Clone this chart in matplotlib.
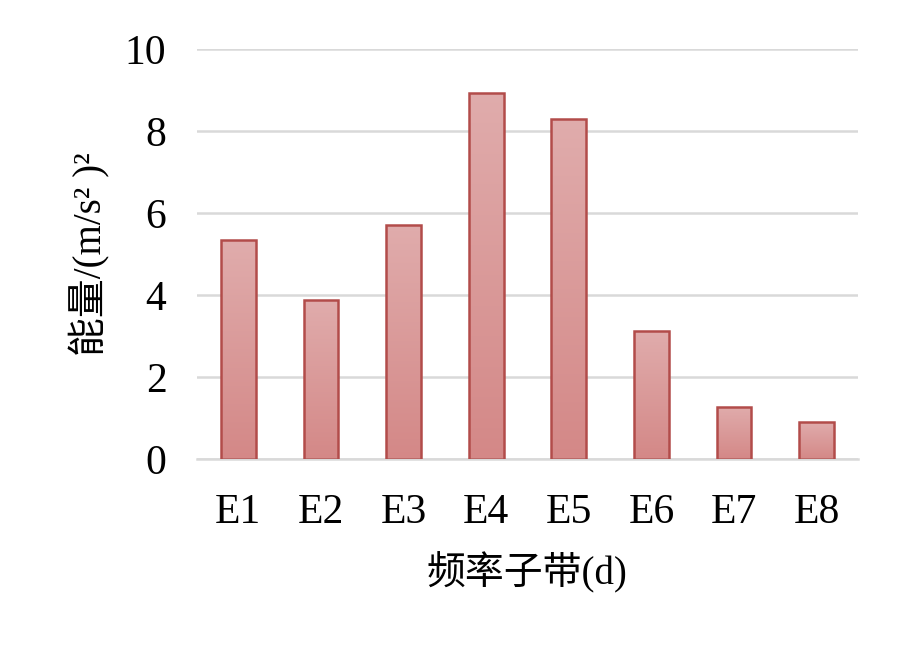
import numpy as np
import matplotlib.pyplot as plt

plt.rcParams['font.family'] = ['Liberation Serif', 'Noto Sans CJK SC']

bands = ["E1", "E2", "E3", "E4", "E5", "E6", "E7", "E8"]
energy = [5.34, 3.88, 5.71, 8.93, 8.29, 3.12, 1.27, 0.90]
yticks = [0, 2, 4, 6, 8, 10]

fig = plt.figure(figsize=(9.09, 6.49), dpi=100)
ax = fig.add_axes([0.2167, 0.2928, 0.7272, 0.6317])

x = np.arange(len(bands))
bars = ax.bar(x, energy, width=0.42, color="none", edgecolor="#B24C4A",
              linewidth=1.8, zorder=3)

# vertical gradient, light at top, darker at bottom
grad = np.linspace(0, 1, 256).reshape(-1, 1)
top = np.array([224, 172, 172]) / 255
bot = np.array([212, 136, 135]) / 255
img = top + (bot - top) * grad[..., None]
for b in bars:
    x0, w, h = b.get_x(), b.get_width(), b.get_height()
    im = ax.imshow(img, extent=[x0, x0 + w, 0, h], origin="upper",
                   aspect="auto", zorder=2)
    im.set_clip_path(b)

ax.set_xlim(-0.5, len(bands) - 0.5)
ax.set_ylim(0, 10)
ax.set_xticks(x)
ax.set_xticklabels(bands)
ax.set_yticks(yticks)
ax.tick_params(axis="both", length=0, labelsize=30)
ax.tick_params(axis="y", pad=22)
ax.tick_params(axis="x", pad=25)

ax.grid(axis="y", color="#D9D9D9", linewidth=1.8, zorder=0)
for s in ["top", "right", "left"]:
    ax.spines[s].set_visible(False)
ax.spines["bottom"].set_color("#D9D9D9")
ax.spines["bottom"].set_linewidth(1.8)

ax.set_ylabel("能量/(m/s² )²", fontsize=28, labelpad=10)
ax.set_xlabel("频率子带(d)", fontsize=28, labelpad=14)

fig.savefig("out.png", dpi=100)
